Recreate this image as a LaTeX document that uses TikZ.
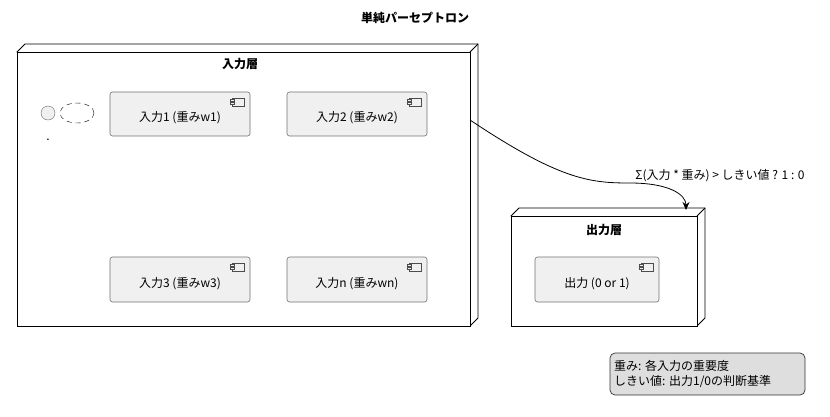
\documentclass[tikz,border=0pt]{standalone}
\usepackage{fontspec}
\usetikzlibrary{shapes.geometric,arrows.meta}
\setmainfont{Noto Sans CJK JP}
\begin{document}
\begin{tikzpicture}[x=1pt,y=-1pt,
  comp/.style={draw=black!55,fill=black!6,rounded corners=2.5pt,line width=0.6pt},
  nodebox/.style={draw=black,fill=white,line width=0.8pt},
  lbl/.style={font=\fontsize{12}{14}\selectfont,inner sep=0pt},
  ttl/.style={font=\fontsize{12}{14}\selectfont\bfseries,inner sep=0pt}]
\useasboundingbox (0,0) rectangle (830,416);
\newcommand{\mynode}[5]{% x1 y1 x2 y2 name
  \draw[nodebox] (#1,#2) -- (#1+8,#2-8) -- (#3+8,#2-8) -- (#3+8,#4-8) -- (#3,#4) -- cycle;
  \draw[nodebox] (#1,#2) rectangle (#3,#4);
  \draw[line width=0.8pt] (#3,#2) -- (#3+8,#2-8);
  \coordinate (#5) at (#1,#2);}
\newcommand{\mycomp}[6]{% x1 y1 x2 y2 name text
  \draw[comp] (#1,#2) rectangle (#3,#4);
  \node[lbl] (#5) at ({(#1+#3)/2},{(#2+#4)/2+4}) {#6};
  \draw[black!70,line width=0.5pt] (#3-18,#2+6) rectangle (#3-6,#2+14);
  \draw[black!70,fill=black!6,line width=0.5pt] (#3-20,#2+7.5) rectangle (#3-16,#2+9.5);
  \draw[black!70,fill=black!6,line width=0.5pt] (#3-20,#2+10.5) rectangle (#3-16,#2+12.5);}
\node[ttl] (title) at (415,18) {単純パーセプトロン};
\mynode{17}{52}{470}{326}{inl}
\node[ttl] (intitle) at (240,64) {入力層};
\mynode{511}{216}{697}{326}{outl}
\node[ttl] (outtitle) at (604,230) {出力層};
\mycomp{110}{92}{250}{136}{c1}{入力1 (重みw1)}
\mycomp{287}{92}{427}{136}{c2}{入力2 (重みw2)}
\mycomp{110}{257}{250}{302}{c3}{入力3 (重みw3)}
\mycomp{287}{257}{427}{302}{cn}{入力n (重みwn)}
\mycomp{535}{257}{659}{302}{co}{出力 (0 or 1)}
\node[draw=black!60,fill=black!6,circle,minimum size=14pt,inner sep=0pt] (circ) at (48,113) {};
\node[draw=black,ellipse,minimum width=34pt,minimum height=20pt,inner sep=0pt,dash pattern=on 5pt off 4pt] (ell) at (77,113) {};
\node[lbl] (dot) at (48,140) {.};
\coordinate (a1) at (470,120);
\coordinate (a2) at (686,210);
\draw[line width=0.8pt,-{Stealth[length=8pt,width=7pt]}] (a1) .. controls (560,180) and (590,183) .. (630,183) .. controls (670,183) and (686,195) .. (a2);
\node[lbl] (elab) at (720,176) {Σ(入力 * 重み) > しきい値 ? 1 : 0};
\draw[black!80,fill=black!13,rounded corners=5pt,line width=0.7pt] (610,353) rectangle (805,395);
\node[lbl,align=left,anchor=west,font=\fontsize{12}{15}\selectfont] (note) at (614,374) {重み: 各入力の重要度\\しきい値: 出力1/0の判断基準};
\end{tikzpicture}
\end{document}
